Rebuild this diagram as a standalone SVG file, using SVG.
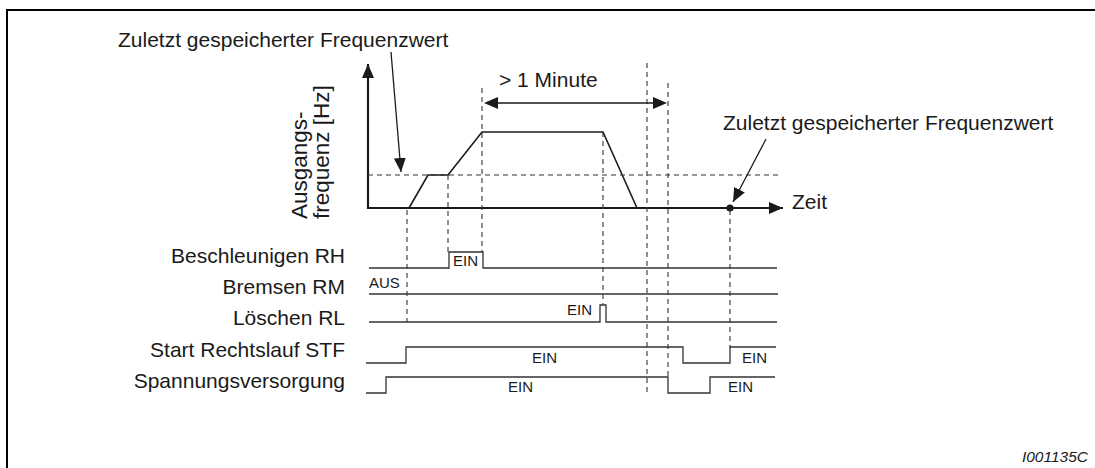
<svg xmlns="http://www.w3.org/2000/svg" width="1095" height="468" viewBox="0 0 1095 468">
<defs>
<style>
text{font-family:"Liberation Sans",Arial,sans-serif;fill:#1a1a1a}
.lbl{font-size:21px}
.rot{font-size:22.5px}
.sm{font-size:15px}
.end{text-anchor:end}
.axis{stroke:#1a1a1a;stroke-width:2.2;fill:none}
.curve{stroke:#1a1a1a;stroke-width:1.6;fill:none}
.sig{stroke:#333;stroke-width:1.3;fill:none}
.dash{stroke:#333;stroke-width:1.1;fill:none;stroke-dasharray:5 4}
.ptr{stroke:#1a1a1a;stroke-width:1.3;fill:none}
.frame{stroke:#000;stroke-width:2;fill:none}
</style>
<marker id="ah" viewBox="0 0 14 12" refX="14" refY="6" markerWidth="14" markerHeight="12" markerUnits="userSpaceOnUse" orient="auto-start-reverse">
<path d="M0,0 L14,6 L0,12 Z" fill="#1a1a1a"/>
</marker>
</defs>
<rect width="1095" height="468" fill="#fff"/>
<path class="frame" d="M7,480 V10 H1100"/>

<g id="axes">
<line class="axis" x1="368" y1="209" x2="368" y2="64" marker-end="url(#ah)"/>
<line class="axis" x1="367" y1="208" x2="783" y2="208" marker-end="url(#ah)"/>
<text class="lbl" x="792" y="209">Zeit</text>
<text class="rot" transform="translate(307,219) rotate(-90)">Ausgangs-</text>
<text class="rot" transform="translate(329,219) rotate(-90)">frequenz [Hz]</text>
</g>

<g id="frequency-curve">
<path class="curve" d="M409,208 L428,175 H448 L482,132 H603 L637,208"/>
<line class="dash" x1="368" y1="175" x2="780" y2="175"/>
</g>

<g id="label-last-freq-1">
<text class="lbl" x="118" y="47">Zuletzt gespeicherter Frequenzwert</text>
</g>
<g id="label-last-freq-2">
<text class="lbl" x="723" y="130">Zuletzt gespeicherter Frequenzwert</text>
<circle cx="730" cy="208" r="3.6" fill="#1a1a1a"/>
</g>
<g id="label-minute">
<text class="lbl" x="499" y="87">&gt; 1 Minute</text>
</g>

<g id="signal-labels">
<text class="lbl end" x="345" y="263">Beschleunigen RH</text>
<text class="lbl end" x="345" y="294">Bremsen RM</text>
<text class="lbl end" x="345" y="325">Löschen RL</text>
<text class="lbl end" x="345" y="357">Start Rechtslauf STF</text>
<text class="lbl end" x="345" y="388">Spannungsversorgung</text>
</g>

<g id="signal-RH">
<path class="sig" d="M369,268 H449 V252 H483 V268 H777"/>
<text class="sm" x="453" y="266">EIN</text>
</g>
<g id="signal-RM">
<path class="sig" d="M369,294 H778"/>
<text class="sm" x="369" y="288">AUS</text>
</g>
<g id="signal-RL">
<path class="sig" d="M369,322 H600 V305 H606 V322 H777"/>
<text class="sm" x="567" y="315">EIN</text>
</g>
<g id="signal-STF">
<path class="sig" d="M366,363 H406 V347 H683 V363 H730 V347 H776"/>
<text class="sm" x="532" y="363">EIN</text>
<text class="sm" x="742" y="363">EIN</text>
</g>
<g id="signal-power">
<path class="sig" d="M366,393 H386 V377 H668 V393 H710 V377 H775"/>
<text class="sm" x="508" y="392">EIN</text>
<text class="sm" x="728" y="392">EIN</text>
</g>

<g id="connectors">
<line class="dash" x1="407" y1="210" x2="407" y2="322"/>
<line class="dash" x1="448" y1="175" x2="448" y2="252"/>
<line class="dash" x1="482" y1="88" x2="482" y2="252"/>
<line class="dash" x1="603" y1="132" x2="603" y2="305"/>
<line class="dash" x1="647" y1="63" x2="647" y2="393"/>
<line class="dash" x1="668" y1="83" x2="668" y2="377"/>
<line class="dash" x1="730" y1="210" x2="730" y2="347"/>
<line class="ptr" x1="497" y1="103" x2="654" y2="103"/>
<path d="M484,103 L498,97 L498,109 Z M667,103 L653,97 L653,109 Z" fill="#1a1a1a"/>
<line class="ptr" x1="391" y1="52" x2="401" y2="172" marker-end="url(#ah)"/>
<line class="ptr" x1="766" y1="139" x2="733" y2="202" marker-end="url(#ah)"/>
</g>

<g id="figure-id">
<text x="1088" y="462" class="end" style="font-size:15.5px;font-style:italic">I001135C</text>
</g>
</svg>
